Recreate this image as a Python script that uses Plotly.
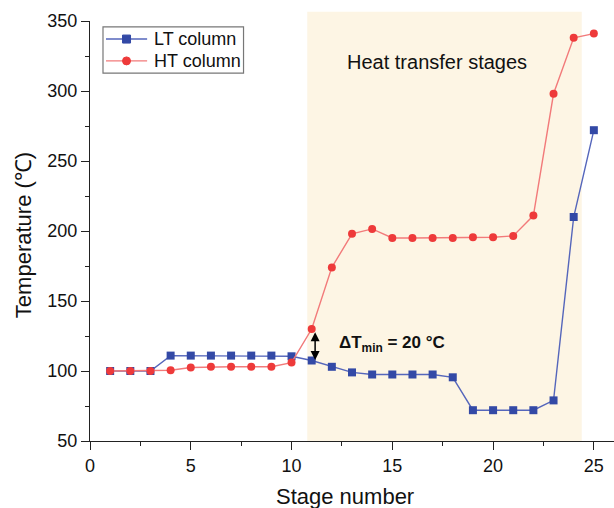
import plotly.graph_objects as go

stages = list(range(1, 26))
lt_column = [100, 100, 100, 111, 111, 111, 111, 111, 111, 110.5, 107.5, 103, 99, 97.5,
             97.5, 97.5, 97.5, 95.5, 72, 72, 72, 72, 79, 210, 272]
ht_column = [100, 100, 100, 100.5, 102.5, 103, 103, 103, 103, 106, 130, 174, 198, 201.5,
             195, 195, 195, 195, 195.5, 195.5, 196.5, 211, 298, 338, 341]

series_names = ["LT column", "HT column"]
heat_transfer_range = [10.78, 24.4]
x_ticks = [0, 5, 10, 15, 20, 25]
y_ticks = [50, 100, 150, 200, 250, 300, 350]

FONT = "Arial, Liberation Sans, sans-serif"
LT_LINE, LT_MARK = "#5566bb", "#3349a6"
HT_LINE, HT_MARK = "#f27a7a", "#ee3a3a"

fig = go.Figure()

fig.add_shape(type="rect", xref="x", yref="paper",
              x0=heat_transfer_range[0], x1=heat_transfer_range[1],
              y0=0, y1=1.022, fillcolor="#fdf5e4", line_width=0, layer="below")

fig.add_trace(go.Scatter(
    x=stages, y=lt_column, mode="lines+markers", name=series_names[0],
    line=dict(color=LT_LINE, width=1.4),
    marker=dict(symbol="square", size=8, color=LT_MARK),
))
fig.add_trace(go.Scatter(
    x=stages, y=ht_column, mode="lines+markers", name=series_names[1],
    line=dict(color=HT_LINE, width=1.4),
    marker=dict(symbol="circle", size=8, color=HT_MARK),
))

# manual legend (paper coordinates)
fig.add_shape(type="rect", xref="paper", yref="paper", x0=0.0248, x1=0.293,
              y0=0.876, y1=0.986, line=dict(color="#777", width=1.2), fillcolor="rgba(0,0,0,0)")
for yp, lc, mc, sym, name in [(0.957, LT_LINE, LT_MARK, "rect", series_names[0]),
                              (0.905, HT_LINE, HT_MARK, "circle", series_names[1])]:
    fig.add_shape(type="line", xref="paper", yref="paper", x0=0.0305, x1=0.109,
                  y0=yp, y1=yp, line=dict(color=lc, width=1.4))
    fig.add_shape(type=sym, xref="paper", yref="paper", xsizemode="pixel", ysizemode="pixel",
                  xanchor=0.0697, yanchor=yp, x0=-4, x1=4, y0=-4, y1=4,
                  fillcolor=mc, line=dict(color=mc, width=1))
    fig.add_annotation(x=0.119, y=yp, xref="paper", yref="paper", text=name,
                       xanchor="left", yanchor="middle", showarrow=False,
                       font=dict(family=FONT, size=18, color="#111"))

fig.add_annotation(x=21.8, y=320.7, xref="x", yref="y", text="Heat transfer stages",
                   xanchor="right", yanchor="middle",
                   showarrow=False, font=dict(family=FONT, size=20, color="#111"))

fig.add_annotation(x=15.0, y=119, xref="x", yref="y",
                   text="<b>ΔT<sub>min</sub> = 20 °C</b>",
                   showarrow=False, font=dict(family=FONT, size=17, color="#111"))

fig.add_annotation(x=11.17, y=107.9, ax=11.17, ay=128.8, xref="x", yref="y",
                   axref="x", ayref="y", text="", showarrow=True,
                   arrowhead=2, startarrowhead=2, arrowside="end+start",
                   arrowsize=1.2, arrowwidth=1.5, arrowcolor="#000")

# axis titles
fig.add_annotation(x=-0.128, y=0.49, xref="paper", yref="paper", text="Temperature (℃)",
                   textangle=-90, showarrow=False, xanchor="center", yanchor="middle",
                   font=dict(family=FONT, size=22, color="#111"))
fig.add_annotation(x=0.487, y=-0.133, xref="paper", yref="paper", text="Stage number",
                   showarrow=False, xanchor="center", yanchor="middle",
                   font=dict(family=FONT, size=22, color="#111"))

fig.update_layout(
    width=614, height=508,
    margin=dict(l=90, r=0, t=21, b=67),
    plot_bgcolor="white", paper_bgcolor="white",
    font=dict(family=FONT, size=18, color="#111"),
    showlegend=False,
    xaxis=dict(range=[0, 26], tickvals=x_ticks, showgrid=False, zeroline=False,
               showline=True, linecolor="#222", linewidth=1.3,
               ticks="outside", ticklen=8, tickwidth=1.3, tickcolor="#222",
               minor=dict(dtick=2.5, ticks="outside", ticklen=4, tickwidth=1.2, tickcolor="#222"),
               tickfont=dict(family=FONT, size=18, color="#111")),
    yaxis=dict(range=[50, 350], tickvals=y_ticks, showgrid=False, zeroline=False,
               showline=True, linecolor="#222", linewidth=1.3,
               ticks="outside", ticklen=8, tickwidth=1.3, tickcolor="#222",
               minor=dict(dtick=25, ticks="outside", ticklen=4, tickwidth=1.2, tickcolor="#222"),
               tickfont=dict(family=FONT, size=18, color="#111")),
)

fig.write_html("out.html")
